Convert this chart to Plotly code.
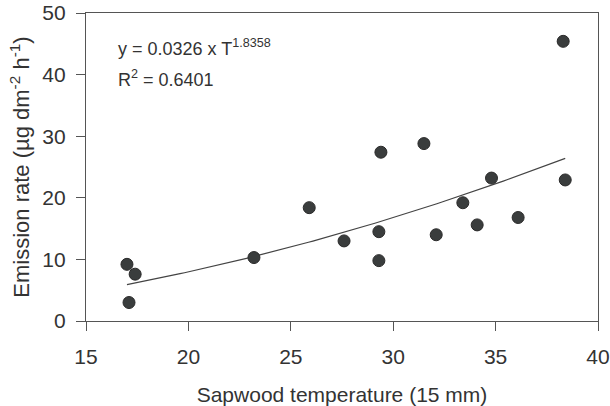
import numpy as np
import plotly.graph_objects as go

# Measured data
temperature = [17.0, 17.4, 17.1, 23.2, 25.9, 27.6, 29.3, 29.3, 29.4, 31.5,
               32.1, 33.4, 34.1, 34.8, 36.1, 38.3, 38.4]
emission = [9.2, 7.6, 3.0, 10.3, 18.4, 13.0, 14.5, 9.8, 27.4, 28.8,
            14.0, 19.2, 15.6, 23.2, 16.8, 45.4, 22.9]

# Power fit shown on chart: y = a * T^b
fit_a = 0.0326
fit_b = 1.8358
fit_range = [17.0, 38.4]

xtick_vals = [15, 20, 25, 30, 35, 40]
ytick_vals = [0, 10, 20, 30, 40, 50]

fit_x = np.linspace(fit_range[0], fit_range[1], 100)
fit_y = fit_a * fit_x ** fit_b

FONT = "Liberation Sans, Arial, sans-serif"
TXT = "#333333"
AX = "#555555"

fig = go.Figure()
fig.add_trace(go.Scatter(x=fit_x, y=fit_y, mode="lines",
                         line=dict(color="#444444", width=1.2),
                         hoverinfo="skip", showlegend=False))
fig.add_trace(go.Scatter(x=temperature, y=emission, mode="markers",
                         marker=dict(size=12, color="#3a3d3d",
                                     line=dict(color="#2a2a2a", width=1)),
                         showlegend=False))

fig.add_annotation(x=0.058, y=0.887, xref="paper", yref="paper",
                   xanchor="left", yanchor="middle", showarrow=False,
                   text=f"y = {fit_a} x T<sup>{fit_b}</sup>",
                   font=dict(family=FONT, size=18, color=TXT))
fig.add_annotation(x=0.058, y=0.787, xref="paper", yref="paper",
                   xanchor="left", yanchor="middle", showarrow=False,
                   text="R<sup>2</sup> = 0.6401",
                   font=dict(family=FONT, size=18, color=TXT))

fig.update_layout(
    width=610, height=406,
    margin=dict(l=86, r=12, t=13, b=85),
    plot_bgcolor="white", paper_bgcolor="white",
    font=dict(family=FONT, color=TXT),
    xaxis=dict(range=[15, 40], tickvals=xtick_vals, ticks="outside", ticklen=9,
               tickcolor=AX, showline=True, linecolor=AX, linewidth=1.2,
               mirror=True, showgrid=False, zeroline=False, automargin=False,
               ticklabelstandoff=8,
               tickfont=dict(family=FONT, size=21, color=TXT),
               title=dict(text="Sapwood temperature (15 mm)",
                          font=dict(family=FONT, size=21, color=TXT),
                          standoff=22)),
    yaxis=dict(range=[0, 50], tickvals=ytick_vals, ticks="outside", ticklen=9,
               tickcolor=AX, showline=True, linecolor=AX, linewidth=1.2,
               mirror=True, showgrid=False, zeroline=False, automargin=False,
               ticklabelstandoff=6,
               tickfont=dict(family=FONT, size=21, color=TXT),
               title=dict(text="Emission rate (µg dm<sup>-2</sup> h<sup>-1</sup>)",
                          font=dict(family=FONT, size=22, color=TXT),
                          standoff=6)),
)

fig.write_html("out.html")
